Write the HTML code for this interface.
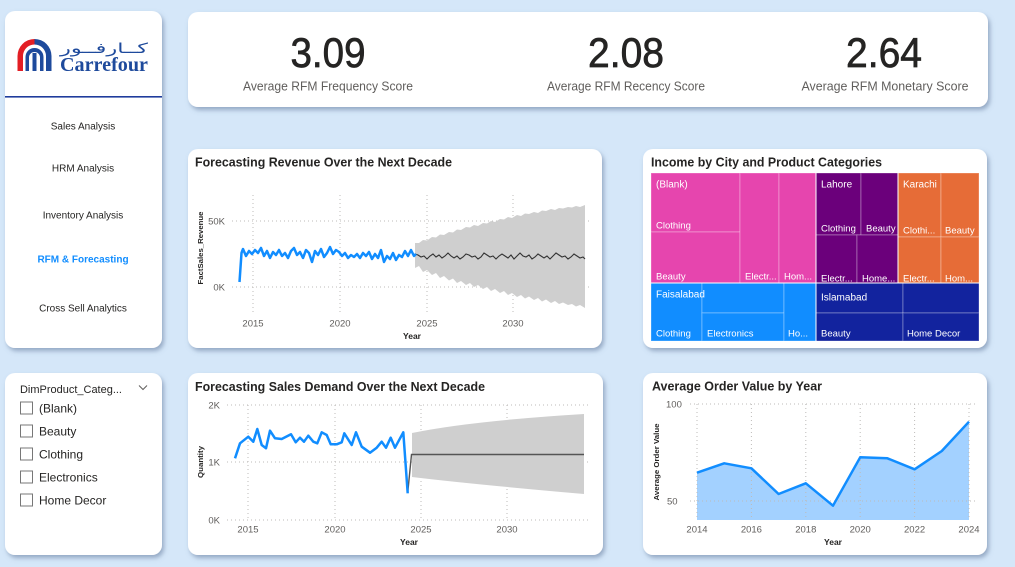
<!DOCTYPE html>
<html><head><meta charset="utf-8"><style>
html,body{margin:0;padding:0;background:#D5E7F9;}
svg{display:block;}
text{font-family:"Liberation Sans",sans-serif;}
</style></head><body>
<svg width="1015" height="567" viewBox="0 0 1015 567" xmlns="http://www.w3.org/2000/svg">
<defs>
<filter id="sh" x="-10%" y="-10%" width="125%" height="130%">
<feDropShadow dx="2" dy="3" stdDeviation="2.5" flood-color="#5f7698" flood-opacity="0.55"/>
</filter>
</defs>
<rect width="1015" height="567" fill="#D5E7F9"/>

<!-- cards -->
<g fill="#fff" filter="url(#sh)">
<rect x="5" y="11" width="157" height="337" rx="10"/>
<rect x="5" y="373" width="157" height="182" rx="10"/>
<rect x="188" y="12" width="800" height="95" rx="10"/>
<rect x="188" y="149" width="414" height="199" rx="10"/>
<rect x="643" y="149" width="344" height="199" rx="10"/>
<rect x="188" y="373" width="415" height="182" rx="10"/>
<rect x="643" y="373" width="344" height="182" rx="10"/>
</g>

<!-- logo -->
<path d="M17.5,71 V56 A17,17 0 0 1 34.5,39 V44.5 A11.5,11.5 0 0 0 23,56 V71 Z" fill="#E31E24"/>
<path d="M34.5,39 A17,17 0 0 1 51.5,56 V71 H46 V56 A11.5,11.5 0 0 0 34.5,44.5 Z" fill="#1E4A9C"/>
<path d="M25.5,71 V57 A9,9 0 0 1 43.5,57 V71 H40 V57.5 A5.5,5.5 0 0 0 29,57.5 V71 Z" fill="#1E4A9C"/>
<rect x="32.5" y="53" width="4" height="18" fill="#1E4A9C"/>
<text x="60" y="53" font-size="14" fill="#1E4A9C" textLength="88" lengthAdjust="spacingAndGlyphs" style="font-family:'DejaVu Sans',sans-serif">كــارفــور</text>
<text x="60" y="71" font-size="20" font-weight="bold" fill="#1E4A9C" textLength="88" lengthAdjust="spacingAndGlyphs" style="font-family:'Liberation Serif',serif">Carrefour</text>
<rect x="5" y="96" width="157" height="1.6" fill="#1F3C9C"/>

<!-- nav -->
<g font-size="10" fill="#252423" text-anchor="middle">
<text x="83" y="129.5">Sales Analysis</text>
<text x="83" y="171.5">HRM Analysis</text>
<text x="83" y="218.5">Inventory Analysis</text>
<text x="83" y="262.5" font-weight="bold" fill="#118DFF">RFM &amp; Forecasting</text>
<text x="83" y="311.5">Cross Sell Analytics</text>
</g>

<!-- slicer -->
<text x="20" y="393" font-size="11" fill="#252423" textLength="102" lengthAdjust="spacingAndGlyphs">DimProduct_Categ...</text>
<polyline points="139,385.5 143,389.5 147,385.5" fill="none" stroke="#605E5C" stroke-width="1"/>
<g fill="#fff" stroke="#777" stroke-width="1">
<rect x="20.5" y="402" width="12" height="12"/>
<rect x="20.5" y="425" width="12" height="12"/>
<rect x="20.5" y="448" width="12" height="12"/>
<rect x="20.5" y="471" width="12" height="12"/>
<rect x="20.5" y="494" width="12" height="12"/>
</g>
<g font-size="12" fill="#252423">
<text x="39" y="412.5">(Blank)</text>
<text x="39" y="435.5">Beauty</text>
<text x="39" y="458.5">Clothing</text>
<text x="39" y="481.5">Electronics</text>
<text x="39" y="504.5">Home Decor</text>
</g>

<!-- KPIs -->
<g font-size="42" fill="#252423" stroke="#252423" stroke-width="0.7" text-anchor="middle">
<text x="328" y="67" textLength="75" lengthAdjust="spacingAndGlyphs">3.09</text>
<text x="626" y="67" textLength="76" lengthAdjust="spacingAndGlyphs">2.08</text>
<text x="884" y="67" textLength="76" lengthAdjust="spacingAndGlyphs">2.64</text>
</g>
<g font-size="13" fill="#605E5C" text-anchor="middle">
<text x="328" y="90.5" textLength="170" lengthAdjust="spacingAndGlyphs">Average RFM Frequency Score</text>
<text x="626" y="90.5" textLength="158" lengthAdjust="spacingAndGlyphs">Average RFM Recency Score</text>
<text x="885" y="90.5" textLength="167" lengthAdjust="spacingAndGlyphs">Average RFM Monetary Score</text>
</g>

<!-- Revenue chart -->
<text x="195" y="166.5" font-size="13" font-weight="bold" fill="#252423" textLength="257" lengthAdjust="spacingAndGlyphs">Forecasting Revenue Over the Next Decade</text>
<g stroke="#BDBBB9" stroke-width="1" stroke-dasharray="1,3" fill="none">
<line x1="232" y1="221" x2="590" y2="221"/>
<line x1="232" y1="287" x2="590" y2="287"/>
<line x1="253" y1="195" x2="253" y2="313"/>
<line x1="340" y1="195" x2="340" y2="313"/>
<line x1="427" y1="195" x2="427" y2="313"/>
<line x1="513" y1="195" x2="513" y2="313"/>
</g>
<g font-size="9.5" fill="#605E5C">
<text x="225" y="224.5" text-anchor="end">50K</text>
<text x="225" y="290.5" text-anchor="end">0K</text>
<text x="253" y="326.5" text-anchor="middle">2015</text>
<text x="340" y="326.5" text-anchor="middle">2020</text>
<text x="427" y="326.5" text-anchor="middle">2025</text>
<text x="513" y="326.5" text-anchor="middle">2030</text>
</g>
<text x="412" y="339" font-size="8.5" font-weight="bold" fill="#252423" text-anchor="middle">Year</text>
<text transform="translate(203,248) rotate(-90)" font-size="7.5" font-weight="bold" fill="#252423" text-anchor="middle" textLength="73" lengthAdjust="spacingAndGlyphs">FactSales_Revenue</text>
<polygon fill="#CFCFCF" points="415,243 419,243 423,240 427,240.5 432,237 436,237.5 440,234.5 444,235 449,232 453,232.5 457,229.5 461,230 466,227 470,227.5 474,225 478,226 483,223 487,223.5 491,221 495,222 500,219 504,219.5 508,217 512,218 517,215 521,216 525,213.5 529,214 534,212 538,213 542,210.5 546,211 551,209 555,210 559,208 563,208.5 568,207 572,207.5 576,206 580,207 585,205 585,308 580,305 576,306.5 572,304 568,305 563,302.5 559,304 555,301 551,303 546,299.5 542,301.5 538,298 534,300 529,296.5 525,298.5 521,295 517,297 512,293 508,295 504,291 500,293 495,289 491,291 487,287 483,289 478,285 474,287 470,283 466,285 461,281 457,283 453,278.5 449,280.5 444,276 440,278 436,273 432,275 427,270 423,272 419,266 415,268"/>
<polyline fill="none" stroke="#333" stroke-width="1.1" points="415,254 418,255 421,257 424,256 427,259 430,256 433,254 436,257 439,255 442,258 445,256 448,253 451,256 454,258 457,256 460,259 463,257 466,254 469,255 472,257 475,256 478,259 481,257 484,253 487,255 490,257 493,256 496,259 499,256 502,254 505,256 508,258 511,255 514,259 517,256 520,253 523,256 526,257 529,255 532,259 535,257 538,254 541,256 544,258 547,256 550,259 553,256 556,253 559,255 562,257 565,256 568,259 571,257 574,254 577,256 580,258 583,257 585,259"/>
<polyline fill="none" stroke="#118DFF" stroke-width="2.5" stroke-linejoin="round" points="239.5,282 241.5,253 243,249 246,256 249,251 252,254 255,250 258,253 261,248 264,256 267,251 270,258 273,252 276,255 279,250 282,256 285,253 288,258 291,251 294,248 297,255 300,252 303,258 306,250 309,253 312,262 315,251 318,255 321,249 324,257 327,253 330,247 333,254 336,250 339,252 342,256 345,253 348,258 351,255 354,257 357,254 360,258 363,253 366,256 369,252 372,259 375,254 378,258 381,250 384,262 387,256 390,259 393,253 396,260 399,255 402,257 405,251 408,256 411,250 414,256 416,254"/>

<!-- Treemap -->
<text x="651" y="166.5" font-size="13" font-weight="bold" fill="#252423" textLength="231" lengthAdjust="spacingAndGlyphs">Income by City and Product Categories</text>
<g stroke="rgba(255,255,255,0.3)" stroke-width="1">
<rect x="651" y="173" width="89" height="59" fill="#E645AE"/>
<rect x="651" y="232" width="89" height="51" fill="#E645AE"/>
<rect x="740" y="173" width="39" height="110" fill="#E645AE"/>
<rect x="779" y="173" width="37" height="110" fill="#E645AE"/>
<rect x="816" y="173" width="45" height="62" fill="#6B007B"/>
<rect x="861" y="173" width="37" height="62" fill="#6B007B"/>
<rect x="816" y="235" width="41" height="48" fill="#6B007B"/>
<rect x="857" y="235" width="41" height="48" fill="#6B007B"/>
<rect x="898" y="173" width="43" height="64" fill="#E66C37"/>
<rect x="941" y="173" width="38" height="64" fill="#E66C37"/>
<rect x="898" y="237" width="43" height="46" fill="#E66C37"/>
<rect x="941" y="237" width="38" height="46" fill="#E66C37"/>
<rect x="651" y="283" width="51" height="58" fill="#118DFF"/>
<rect x="702" y="283" width="82" height="30" fill="#118DFF"/>
<rect x="702" y="313" width="82" height="28" fill="#118DFF"/>
<rect x="784" y="283" width="32" height="58" fill="#118DFF"/>
<rect x="816" y="283" width="87" height="30" fill="#12239E"/>
<rect x="903" y="283" width="76" height="30" fill="#12239E"/>
<rect x="816" y="313" width="87" height="28" fill="#12239E"/>
<rect x="903" y="313" width="76" height="28" fill="#12239E"/>
</g>
<g stroke="#fff" stroke-width="1" fill="none">
<line x1="651" y1="283" x2="979" y2="283"/>
<line x1="816" y1="173" x2="816" y2="341"/>
<line x1="898" y1="173" x2="898" y2="283"/>
</g>
<g fill="#fff" font-size="9.5">
<text x="656" y="187.5" font-size="10">(Blank)</text>
<text x="656" y="228.5">Clothing</text>
<text x="656" y="279.5">Beauty</text>
<text x="745" y="279.5">Electr...</text>
<text x="784" y="279.5">Hom...</text>
<text x="821" y="187.5" font-size="10">Lahore</text>
<text x="821" y="231.5">Clothing</text>
<text x="866" y="231.5">Beauty</text>
<text x="821" y="281.5">Electr...</text>
<text x="862" y="281.5">Home...</text>
<text x="903" y="187.5" font-size="10">Karachi</text>
<text x="903" y="233.5">Clothi...</text>
<text x="945" y="233.5">Beauty</text>
<text x="903" y="281.5">Electr...</text>
<text x="945" y="281.5">Hom...</text>
<text x="656" y="297.5" font-size="10">Faisalabad</text>
<text x="656" y="336.5">Clothing</text>
<text x="707" y="336.5">Electronics</text>
<text x="788" y="336.5">Ho...</text>
<text x="821" y="300.5" font-size="10">Islamabad</text>
<text x="821" y="336.5">Beauty</text>
<text x="907" y="336.5">Home Decor</text>
</g>

<!-- Demand chart -->
<text x="195" y="391" font-size="13" font-weight="bold" fill="#252423" textLength="290" lengthAdjust="spacingAndGlyphs">Forecasting Sales Demand Over the Next Decade</text>
<g stroke="#BDBBB9" stroke-width="1" stroke-dasharray="1,3" fill="none">
<line x1="227" y1="405" x2="590" y2="405"/>
<line x1="227" y1="462" x2="590" y2="462"/>
<line x1="227" y1="520" x2="590" y2="520"/>
<line x1="248" y1="405" x2="248" y2="520"/>
<line x1="335" y1="405" x2="335" y2="520"/>
<line x1="421" y1="405" x2="421" y2="520"/>
<line x1="507" y1="405" x2="507" y2="520"/>
</g>
<g font-size="9.5" fill="#605E5C">
<text x="220" y="408.5" text-anchor="end">2K</text>
<text x="220" y="465.5" text-anchor="end">1K</text>
<text x="220" y="523.5" text-anchor="end">0K</text>
<text x="248" y="532.5" text-anchor="middle">2015</text>
<text x="335" y="532.5" text-anchor="middle">2020</text>
<text x="421" y="532.5" text-anchor="middle">2025</text>
<text x="507" y="532.5" text-anchor="middle">2030</text>
</g>
<text x="409" y="545" font-size="8.5" font-weight="bold" fill="#252423" text-anchor="middle">Year</text>
<text transform="translate(203,462) rotate(-90)" font-size="7.5" font-weight="bold" fill="#252423" text-anchor="middle" textLength="32" lengthAdjust="spacingAndGlyphs">Quantity</text>
<path d="M412,433 Q470,421 584,414 L584,494 Q470,484 412,477 Z" fill="#CFCFCF"/>
<polyline fill="none" stroke="#555" stroke-width="1.4" points="407.7,493 411.5,454.5 584,454.5"/>
<polyline fill="none" stroke="#118DFF" stroke-width="2.5" stroke-linejoin="round" points="235,458.3 240,443.3 248.3,436.7 253.3,441.7 257.3,429 261.7,445 266,448.3 270,430.7 275,438.3 281.7,439 291,434.3 295.7,442.3 300,437.7 304,441.7 308.3,435.7 313.3,441.7 317.3,443.3 321.7,432.3 326.7,435 330.7,444.3 336.7,444.3 341.7,442.3 344.3,433.3 351.7,445 356,432.3 361.7,446.7 370,452.7 376.7,447.7 381.7,441.7 386,447.7 390.7,437.7 395,447.7 403.3,432.3 407.7,493.3"/>

<!-- AOV chart -->
<text x="652" y="390.5" font-size="13" font-weight="bold" fill="#252423" textLength="170" lengthAdjust="spacingAndGlyphs">Average Order Value by Year</text>
<polygon fill="#A3D1FF" points="697,520 697,472.7 724.2,463.3 751.4,468.3 778.6,494 805.8,483.3 833,505.7 860.2,457.3 887.4,458.3 914.6,469.3 941.8,451 969,421.7 969,520"/>
<g stroke="#BDBBB9" stroke-width="1" stroke-dasharray="1,3" fill="none">
<line x1="690" y1="404" x2="977" y2="404"/>
<line x1="690" y1="501" x2="977" y2="501"/>
<line x1="697" y1="404" x2="697" y2="520"/>
<line x1="751.4" y1="404" x2="751.4" y2="520"/>
<line x1="805.8" y1="404" x2="805.8" y2="520"/>
<line x1="860.2" y1="404" x2="860.2" y2="520"/>
<line x1="914.6" y1="404" x2="914.6" y2="520"/>
<line x1="969" y1="404" x2="969" y2="520"/>
</g>
<polyline fill="none" stroke="#118DFF" stroke-width="2.5" stroke-linejoin="round" points="697,472.7 724.2,463.3 751.4,468.3 778.6,494 805.8,483.3 833,505.7 860.2,457.3 887.4,458.3 914.6,469.3 941.8,451 969,421.7"/>
<g font-size="9.5" fill="#605E5C">
<text x="666" y="407.5">100</text>
<text x="667" y="504.5">50</text>
<text x="697" y="532.5" text-anchor="middle">2014</text>
<text x="751.4" y="532.5" text-anchor="middle">2016</text>
<text x="805.8" y="532.5" text-anchor="middle">2018</text>
<text x="860.2" y="532.5" text-anchor="middle">2020</text>
<text x="914.6" y="532.5" text-anchor="middle">2022</text>
<text x="969" y="532.5" text-anchor="middle">2024</text>
</g>
<text x="833" y="545" font-size="8.5" font-weight="bold" fill="#252423" text-anchor="middle">Year</text>
<text transform="translate(659,462) rotate(-90)" font-size="7.5" font-weight="bold" fill="#252423" text-anchor="middle" textLength="77" lengthAdjust="spacingAndGlyphs">Average Order Value</text>
</svg>
</body></html>
